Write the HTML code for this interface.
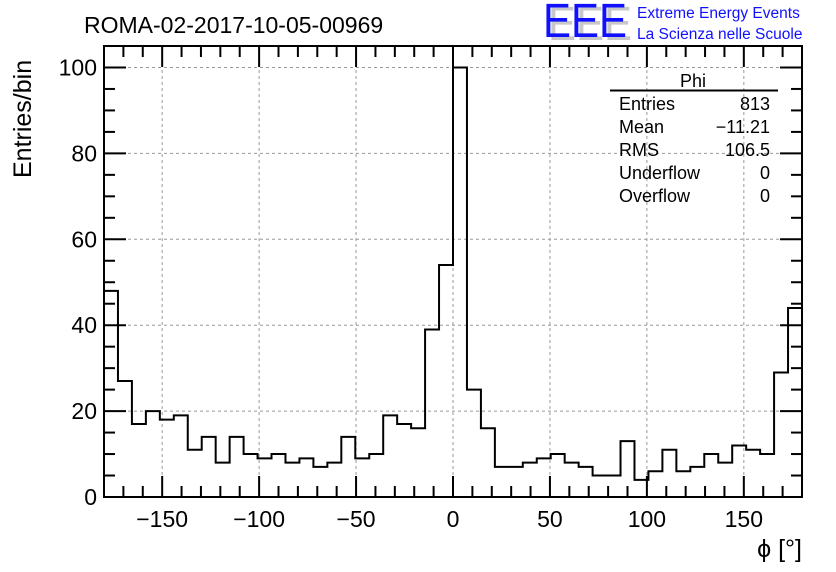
<!DOCTYPE html>
<html><head><meta charset="utf-8">
<style>
body{margin:0;background:#fff;}
svg{display:block;font-family:"Liberation Sans",sans-serif;}
</style></head>
<body>
<svg id="chart" width="836" height="572" viewBox="0 0 836 572" xmlns="http://www.w3.org/2000/svg">
<rect width="836" height="572" fill="#fff"/>
<g id="grid"></g>
<g id="hist"></g>
<g id="axes"></g>
<text x="84" y="33" font-size="23">ROMA-02-2017-10-05-00969</text>
<g>
<text x="548" y="40" font-size="48" fill="#c8c8c8" textLength="84" lengthAdjust="spacingAndGlyphs">EEE</text>
<text x="543" y="37" font-size="48" fill="#1010ff" textLength="84" lengthAdjust="spacingAndGlyphs">EEE</text>
<text x="637" y="18" font-size="15.5" fill="#1010ff">Extreme Energy Events</text>
<text x="637" y="39" font-size="15.5" fill="#1010ff">La Scienza nelle Scuole</text>
</g>
<g font-size="18">
<text x="693" y="87" text-anchor="middle">Phi</text>
<line x1="610" y1="90.5" x2="778" y2="90.5" stroke="#000" stroke-width="2"/>
<text x="619" y="110">Entries</text><text x="770" y="110" text-anchor="end">813</text>
<text x="619" y="133">Mean</text><text x="770" y="133" text-anchor="end">−11.21</text>
<text x="619" y="156">RMS</text><text x="770" y="156" text-anchor="end">106.5</text>
<text x="619" y="179">Underflow</text><text x="770" y="179" text-anchor="end">0</text>
<text x="619" y="202">Overflow</text><text x="770" y="202" text-anchor="end">0</text>
</g>
<text transform="translate(31,178) rotate(-90)" font-size="25">Entries/bin</text>
<text x="802" y="557" text-anchor="end" font-size="25">ϕ [°]</text>
</svg>
<script>
const counts=[48,27,17,20,18,19,11,14,8,14,10,9,10,8,9,7,8,14,9,10,19,17,16,39,54,100,25,16,7,7,8,9,10,8,7,5,5,13,4,6,11,6,7,10,8,12,11,10,29,44];
const xTicks=[-150,-100,-50,0,50,100,150];
const yTicks=[0,20,40,60,80,100];
const xMin=-180,xMax=180,yMin=0,yMax=105;
const L=104,R=802,T=46,B=497;
const NS="http://www.w3.org/2000/svg";
function sx(v){return L+(v-xMin)/(xMax-xMin)*(R-L);}
function sy(v){return B-(v-yMin)/(yMax-yMin)*(B-T);}
function mk(tag,attrs,parent){const e=document.createElementNS(NS,tag);for(const k in attrs)e.setAttribute(k,attrs[k]);parent.appendChild(e);return e;}
const grid=document.getElementById('grid'),hist=document.getElementById('hist'),axes=document.getElementById('axes');
xTicks.forEach(t=>{const g=mk('line',{x1:sx(t),x2:sx(t),y1:T,y2:B,stroke:'#999','stroke-dasharray':'3,3','stroke-width':1},grid);

});
yTicks.forEach(t=>{if(t===0)return;const g=mk('line',{x1:L,x2:R,y1:sy(t),y2:sy(t),stroke:'#999','stroke-dasharray':'3,3','stroke-width':1},grid);

});
const bw=(xMax-xMin)/counts.length;
let d='M'+sx(xMin)+','+sy(0);
counts.forEach((c,i)=>{const x0=sx(xMin+i*bw),x1=sx(xMin+(i+1)*bw);d+=' L'+x0+','+sy(c)+' L'+x1+','+sy(c);});
d+=' L'+sx(xMax)+','+sy(0);
const p=mk('path',{d:d,fill:'none',stroke:'#000','stroke-width':2},hist);


const fr=mk('rect',{x:L,y:T,width:R-L,height:B-T,fill:'none',stroke:'#000','stroke-width':2},axes);


for(let v=xMin;v<=xMax;v+=10){const major=v%50===0;const len=major?21:11;
mk('line',{x1:sx(v),x2:sx(v),y1:B,y2:B-len,stroke:'#000','stroke-width':2},axes);
mk('line',{x1:sx(v),x2:sx(v),y1:T,y2:T+len,stroke:'#000','stroke-width':2},axes);}
for(let v=0;v<=yMax;v+=5){const major=v%20===0;const len=major?22:11;
mk('line',{x1:L,x2:L+len,y1:sy(v),y2:sy(v),stroke:'#000','stroke-width':2},axes);
mk('line',{x1:R,x2:R-len,y1:sy(v),y2:sy(v),stroke:'#000','stroke-width':2},axes);}
xTicks.forEach(t=>{const e=mk('text',{x:sx(t),y:527,'text-anchor':'middle','font-size':23},axes);e.textContent=t<0?'−'+(-t):String(t);

});
yTicks.forEach(t=>{const e=mk('text',{x:97,y:sy(t)+8,'text-anchor':'end','font-size':23},axes);e.textContent=String(t);

});
</script>
</body></html>
